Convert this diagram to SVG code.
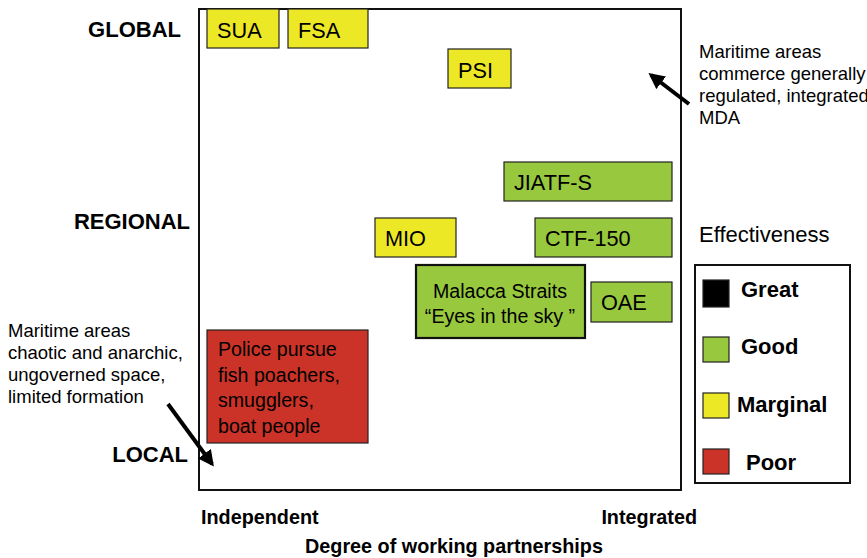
<svg xmlns="http://www.w3.org/2000/svg" width="867" height="558" viewBox="0 0 867 558">
  <style>
    text { font-family: "Liberation Sans", Arial, sans-serif; fill: #000; }
    .axis { font-size: 22px; font-weight: bold; }
    .xlab { font-size: 19.8px; font-weight: bold; }
    .note { font-size: 18.5px; }
    .inbox { font-size: 19.6px; }
    .lbl { font-size: 21.7px; }
    .leg { font-size: 22px; font-weight: bold; }
    .box { stroke: #222; stroke-width: 1.2; }
    .marginal { fill: #EDE825; }
    .good { fill: #98C83D; }
    .poor { fill: #CB3328; }
    .great { fill: #000; }
  </style>
  <defs>
    <marker id="arrow" viewBox="0 0 10 10" refX="8" refY="5" markerWidth="4" markerHeight="4" orient="auto">
      <path d="M0,0 L10,5 L0,10 z" fill="#000"/>
    </marker>
  </defs>

  <rect width="867" height="558" fill="#fff"/>

  <!-- chart frame -->
  <rect x="199" y="9" width="482" height="481" fill="none" stroke="#111" stroke-width="2"/>

  <!-- axis labels -->
  <text class="axis" x="181" y="37" text-anchor="end">GLOBAL</text>
  <text class="axis" x="190" y="229" text-anchor="end">REGIONAL</text>
  <text class="axis" x="188" y="462" text-anchor="end">LOCAL</text>
  <text class="xlab" x="201" y="524">Independent</text>
  <text class="xlab" x="697" y="524" text-anchor="end">Integrated</text>
  <text class="xlab" x="454" y="553" text-anchor="middle">Degree of working partnerships</text>

  <!-- nodes -->
  <g id="sua">
    <rect class="box marginal" x="207" y="9" width="72" height="39"/>
    <text class="lbl" x="217" y="38">SUA</text>
  </g>
  <g id="fsa">
    <rect class="box marginal" x="288" y="9" width="80" height="39"/>
    <text class="lbl" x="298" y="38">FSA</text>
  </g>
  <g id="psi">
    <rect class="box marginal" x="448" y="49" width="63" height="39"/>
    <text class="lbl" x="458" y="78">PSI</text>
  </g>
  <g id="jiatf-s">
    <rect class="box good" x="504" y="162" width="168" height="39"/>
    <text class="lbl" x="514" y="190">JIATF-S</text>
  </g>
  <g id="mio">
    <rect class="box marginal" x="375" y="218" width="81" height="39"/>
    <text class="lbl" x="385" y="246">MIO</text>
  </g>
  <g id="ctf-150">
    <rect class="box good" x="535" y="218" width="137" height="39"/>
    <text class="lbl" x="545" y="246">CTF-150</text>
  </g>
  <g id="malacca">
    <rect x="416" y="265" width="169" height="73" class="good" stroke="#111" stroke-width="2.2"/>
    <text class="inbox" x="500" y="298" text-anchor="middle">Malacca Straits</text>
    <text class="inbox" x="500" y="323" text-anchor="middle">“Eyes in the sky ”</text>
  </g>
  <g id="oae">
    <rect class="box good" x="591" y="282" width="81" height="40"/>
    <text class="lbl" x="601" y="310">OAE</text>
  </g>
  <g id="police">
    <rect class="box poor" x="207" y="330" width="161" height="113"/>
    <text class="inbox" x="218" y="356">Police pursue</text>
    <text class="inbox" x="218" y="382">fish poachers,</text>
    <text class="inbox" x="218" y="407">smugglers,</text>
    <text class="inbox" x="218" y="433">boat people</text>
  </g>

  <!-- annotations -->
  <g id="note-integrated">
    <text class="note" x="699" y="58">Maritime areas</text>
    <text class="note" x="699" y="80">commerce generally</text>
    <text class="note" x="699" y="102">regulated, integrated</text>
    <text class="note" x="699" y="124">MDA</text>
  </g>
  <g id="note-chaotic">
    <text class="note" x="8" y="337">Maritime areas</text>
    <text class="note" x="8" y="359">chaotic and anarchic,</text>
    <text class="note" x="8" y="381">ungoverned space,</text>
    <text class="note" x="8" y="403">limited formation</text>
  </g>

  <!-- connectors -->
  <g id="connectors" stroke="#000" stroke-width="4" fill="none">
    <line x1="689" y1="104" x2="651" y2="75" marker-end="url(#arrow)"/>
    <line x1="168" y1="404" x2="212" y2="464" marker-end="url(#arrow)"/>
  </g>

  <!-- legend -->
  <g id="legend">
    <text x="699" y="242" font-size="22">Effectiveness</text>
    <rect x="695" y="265" width="155" height="218" fill="none" stroke="#111" stroke-width="2"/>
    <rect class="box great" x="703" y="280" width="26" height="27"/>
    <text class="leg" x="741" y="297">Great</text>
    <rect class="box good" x="703" y="337" width="26" height="25"/>
    <text class="leg" x="741" y="354">Good</text>
    <rect class="box marginal" x="703" y="393" width="26" height="25"/>
    <text class="leg" x="737" y="412">Marginal</text>
    <rect class="box poor" x="703" y="449" width="26" height="25"/>
    <text class="leg" x="746" y="470">Poor</text>
  </g>
</svg>
